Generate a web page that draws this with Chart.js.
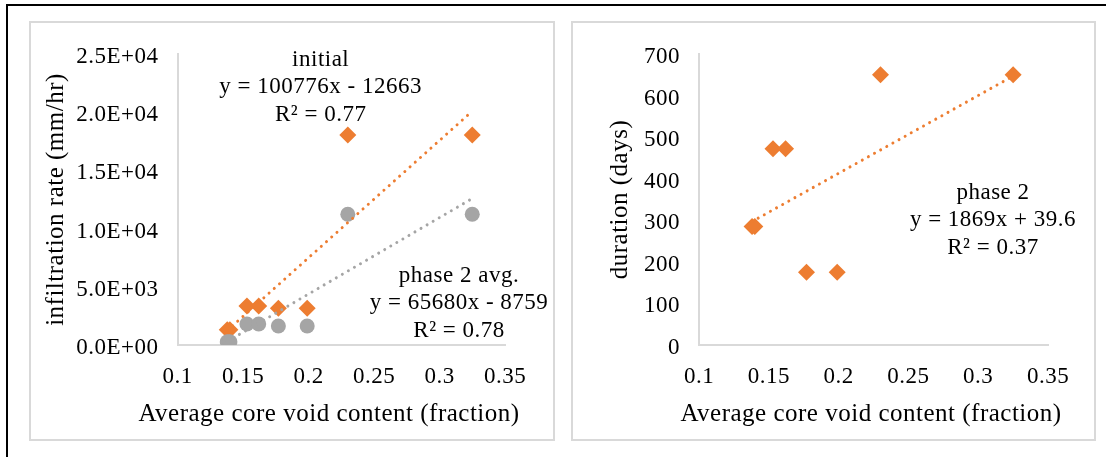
<!DOCTYPE html>
<html>
<head>
<meta charset="utf-8">
<script src="https://cdn.jsdelivr.net/npm/chart.js@4.4.0/dist/chart.umd.min.js"></script>
<style>
  body { margin: 0; background: #fff; width: 1106px; height: 457px; overflow: hidden; position: relative; }
  #frame { position: absolute; left: 6px; top: 4px; right: -4px; bottom: -4px; border-left: 2px solid #000; border-top: 2px solid #000; }
  .box { position: absolute; top: 21px; height: 420px; border: 2px solid #d9d9d9; box-sizing: border-box; }
  canvas { position: absolute; top: 21px; }
</style>
</head>
<body>
<div id="frame"></div>
<div class="box" style="left:29px;width:526px"></div>
<div class="box" style="left:571px;width:525px"></div>
<canvas id="rate" width="526" height="420" style="left:29px"></canvas>
<canvas id="duration" width="525" height="420" style="left:571px"></canvas>
<script>
// data
const voidContent = [0.138, 0.14, 0.153, 0.162, 0.177, 0.199, 0.23, 0.325];
const initialRate = [1300, 1300, 3350, 3350, 3150, 3150, 18050, 18050];
const phase2Rate = [280, 280, 1800, 1800, 1630, 1630, 11230, 11230];
const durationDays = [285, 285, 472, 472, 175, 175, 650, 650];

// trendline values at the lowest and highest void content
const initialTrend = [1244, 20089];
const phase2Trend = [305, 12587];
const durationTrend = [297, 647];

const initialNote = ['initial', 'y = 100776x - 12663', 'R\u00b2 = 0.77'];
const phase2Note = ['phase 2 avg.', 'y = 65680x - 8759', 'R\u00b2 = 0.78'];
const durationNote = ['phase 2', 'y = 1869x + 39.6', 'R\u00b2 = 0.37'];
const xTitle = 'Average core void content (fraction)';

const ORANGE = '#ED7D31';
const GREY = '#A5A5A5';
const FONT = "'Liberation Serif', 'Times New Roman', serif";

Chart.defaults.font.family = FONT;
Chart.defaults.color = '#000';

const points = ys => voidContent.map((x, i) => ({ x: x, y: ys[i] }));
const trend = ends => [
    { x: voidContent[0], y: ends[0] },
    { x: voidContent[voidContent.length - 1], y: ends[1] }
];

function sci(v) {
    if (v === 0) return '0.0E+00';
    const parts = v.toExponential(1).split('e');
    const e = parseInt(parts[1], 10);
    return parts[0] + 'E' + (e < 0 ? '-' : '+') + String(Math.abs(e)).padStart(2, '0');
}

// Excel draws its text a little wider, so widen the canvas text
const spacing = {
    id: 'spacing',
    beforeUpdate(chart) { chart.ctx.letterSpacing = '0.5px'; },
    beforeDraw(chart) { chart.ctx.letterSpacing = '0.5px'; }
};

// trendline labels and the x title (the scale title would be squeezed to the plot width)
function notes(list) {
    return {
        id: 'notes',
        afterDraw(chart) {
            const ctx = chart.ctx;
            ctx.save();
            ctx.fillStyle = '#000';
            ctx.textAlign = 'center';
            ctx.textBaseline = 'middle';
            ctx.letterSpacing = '0.5px';
            ctx.font = '23px ' + FONT;
            list.forEach(n => {
                const x = chart.scales.x.getPixelForValue(n.at[0]);
                const y = chart.scales.y.getPixelForValue(n.at[1]);
                n.lines.forEach((t, i) => ctx.fillText(t, x, y + (i - 1) * 27.5));
            });
            ctx.font = '25px ' + FONT;
            ctx.fillText(xTitle, 300, chart.height - 27);
            ctx.restore();
        }
    };
}

function trendSet(data, color) {
    return {
        data: data,
        showLine: true,
        borderColor: color,
        borderWidth: 3,
        borderDash: [0.01, 7],
        borderCapStyle: 'round',
        pointRadius: 0,
        fill: false,
        order: 0
    };
}

function xAxis() {
    return {
        type: 'linear',
        min: 0.1,
        max: 0.35,
        ticks: {
            stepSize: 0.05,
            padding: 18,
            font: { size: 23 },
            callback: v => String(+v.toFixed(2))
        },
        grid: { display: false, drawTicks: false },
        border: { display: true, color: '#d9d9d9', width: 2 },
        title: { display: false },
        afterFit: s => { s.height = 96; }
    };
}

function yAxis(max, step, label, width, titlePad, fmt) {
    return {
        type: 'linear',
        min: 0,
        max: max,
        ticks: {
            stepSize: step,
            padding: 19,
            labelOffset: 3,
            font: { size: 23 },
            callback: fmt
        },
        grid: { display: false, drawTicks: false },
        border: { display: true, color: '#d9d9d9', width: 2 },
        title: {
            display: true,
            text: label,
            font: { size: 25 },
            padding: { top: titlePad, bottom: 0 }
        },
        afterFit: s => { s.width = width; }
    };
}

const baseOptions = (right, x, y) => ({
    responsive: false,
    animation: false,
    layout: { padding: { left: 0, top: 33, right: right, bottom: 0 } },
    plugins: { legend: { display: false }, tooltip: { enabled: false } },
    scales: { x: x, y: y }
});

const rateChart = new Chart(document.getElementById('rate'), {
    type: 'scatter',
    data: {
        datasets: [
            trendSet(trend(initialTrend), ORANGE),
            trendSet(trend(phase2Trend), GREY),
            {
                label: 'phase 2 avg.',
                data: points(phase2Rate),
                pointStyle: 'circle',
                pointRadius: 7.5,
                pointBackgroundColor: GREY,
                pointBorderWidth: 0,
                order: 1
            },
            {
                label: 'initial',
                data: points(initialRate),
                pointStyle: 'rectRot',
                pointRadius: 8.5,
                pointBackgroundColor: ORANGE,
                pointBorderWidth: 0,
                order: 2
            }
        ]
    },
    options: baseOptions(50, xAxis(),
        yAxis(25000, 5000, 'infiltration rate (mm/hr)', 148.5, 12, sci)),
    plugins: [spacing, notes([
        { lines: initialNote, at: [0.2093, 22140] },
        { lines: phase2Note, at: [0.3149, 3580] }
    ])]
});

const durationChart = new Chart(document.getElementById('duration'), {
    type: 'scatter',
    data: {
        datasets: [
            trendSet(trend(durationTrend), ORANGE),
            {
                label: 'phase 2',
                data: points(durationDays),
                pointStyle: 'rectRot',
                pointRadius: 8.5,
                pointBackgroundColor: ORANGE,
                pointBorderWidth: 0,
                order: 1
            }
        ]
    },
    options: baseOptions(48, xAxis(),
        yAxis(700, 100, 'duration (days)', 128, 34, v => String(v))),
    plugins: [spacing, notes([
        { lines: durationNote, at: [0.3106, 300.7] }
    ])]
});
</script>
</body>
</html>
